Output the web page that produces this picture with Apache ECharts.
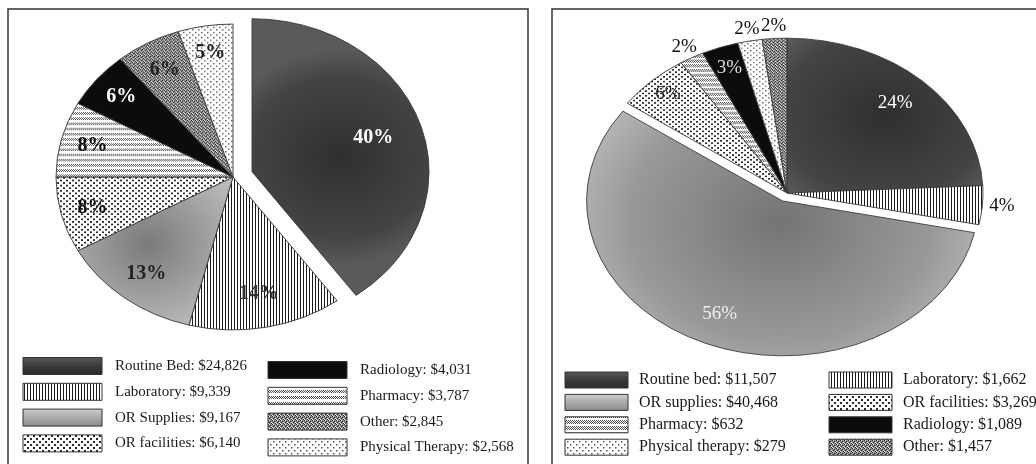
<!DOCTYPE html>
<html>
<head>
<meta charset="utf-8">
<script src="https://cdn.jsdelivr.net/npm/echarts@6/dist/echarts.min.js"></script>
<style>
html, body { margin: 0; padding: 0; background: #fff; }
#main { width: 1036px; height: 464px; }
</style>
</head>
<body>
<div id="main"></div>
<script>
// left pie
var leftNames = ['Routine Bed', 'Laboratory', 'OR Supplies', 'OR facilities', 'Pharmacy', 'Radiology', 'Other', 'Physical Therapy'];
var leftShares = [40, 14, 13, 8, 8, 6, 6, 5];
var leftCosts = [24826, 9339, 9167, 6140, 3787, 4031, 2845, 2568];
// right pie
var rightNames = ['Routine bed', 'Laboratory', 'OR supplies', 'OR facilities', 'Pharmacy', 'Radiology', 'Physical therapy', 'Other'];
var rightShares = [24, 4, 56, 6, 2, 3, 2, 2];
var rightCosts = [11507, 1662, 40468, 3269, 632, 1089, 279, 1457];

// fill kind of each slice
var leftKinds = ['bed', 'lab', 'sup', 'fac', 'pharm', 'rad', 'other', 'pt'];
var rightKinds = ['bed', 'lab', 'sup2', 'fac', 'pharm2', 'rad', 'pt', 'other'];

function makeCanvas(w, h, draw) {
  var c = document.createElement('canvas');
  c.width = w;
  c.height = h;
  draw(c.getContext('2d'));
  return c;
}
function hatch(g, band) {
  g.fillStyle = '#fff';
  g.fillRect(0, 0, 6, 6);
  g.strokeStyle = '#3c3c3c';
  g.lineWidth = 0.9;
  for (var x = -3; x <= 6; x += 2) {
    g.beginPath();
    g.moveTo(x, band);
    g.lineTo(x + band, 0);
    g.stroke();
  }
}
var patterns = {
  lines: makeCanvas(3, 3, function (g) {
    g.fillStyle = '#fff'; g.fillRect(0, 0, 3, 3);
    g.fillStyle = '#1a1a1a'; g.fillRect(0, 0, 1, 3);
  }),
  dots: makeCanvas(6, 6, function (g) {
    g.fillStyle = '#fff'; g.fillRect(0, 0, 6, 6);
    g.fillStyle = '#2a2a2a'; g.fillRect(0, 0, 2, 2); g.fillRect(3, 3, 2, 2);
  }),
  lightdots: makeCanvas(6, 6, function (g) {
    g.fillStyle = '#fff'; g.fillRect(0, 0, 6, 6);
    g.fillStyle = '#555'; g.fillRect(0, 0, 1.5, 1.5); g.fillRect(3, 3, 1.5, 1.5);
  }),
  dense: makeCanvas(4, 4, function (g) {
    g.fillStyle = '#8c8c8c'; g.fillRect(0, 0, 4, 4);
    g.fillStyle = '#262626';
    g.fillRect(0, 0, 1, 1); g.fillRect(2, 1, 1, 1); g.fillRect(1, 2, 1, 1); g.fillRect(3, 3, 1, 1);
    g.fillStyle = '#e6e6e6';
    g.fillRect(1, 0, 1, 1); g.fillRect(3, 2, 1, 1); g.fillRect(0, 3, 1, 1);
  }),
  hatch: makeCanvas(6, 6, function (g) { hatch(g, 3); }),
  hatch2: makeCanvas(6, 6, function (g) { hatch(g, 4); })
};
function pat(c) { return { image: c, repeat: 'repeat' }; }

var fills = {
  bed: new echarts.graphic.RadialGradient(0.5, 0.5, 0.7, [
    { offset: 0, color: '#2f2f2f' }, { offset: 0.75, color: '#444' }, { offset: 1, color: '#5a5a5a' }]),
  sup: new echarts.graphic.RadialGradient(0.45, 0.45, 0.75, [
    { offset: 0, color: '#7a7a7a' }, { offset: 1, color: '#c2c2c2' }]),
  sup2: new echarts.graphic.RadialGradient(0.5, 0.45, 0.7, [
    { offset: 0, color: '#747474' }, { offset: 0.7, color: '#999' }, { offset: 1, color: '#b8b8b8' }]),
  lab: pat(patterns.lines),
  fac: pat(patterns.dots),
  pt: pat(patterns.lightdots),
  other: pat(patterns.dense),
  pharm: pat(patterns.hatch),
  pharm2: pat(patterns.hatch2),
  rad: '#0c0c0c'
};
var swatchFills = {
  bed: new echarts.graphic.LinearGradient(0, 0, 0, 1, [
    { offset: 0, color: '#5a5a5a' }, { offset: 0.5, color: '#3a3a3a' }, { offset: 1, color: '#2a2a2a' }]),
  sup: new echarts.graphic.LinearGradient(0, 0, 0, 1, [
    { offset: 0, color: '#d0d0d0' }, { offset: 0.5, color: '#aaa' }, { offset: 1, color: '#8a8a8a' }])
};
swatchFills.sup2 = swatchFills.sup;

var leftCfg = {
  cx: 233, cy: 177, r: 177, k: 0.864,
  explode: [20, 0, 0, 0, 0, 0, 0, 0],
  labelR: [0.72, 0.78, 0.8, 0.82, 0.82, 0.82, 0.8, 0.82],
  labelColor: ['#fff', '#333', '#222', '#111', '#111', '#fff', '#222', '#222'],
  fontSize: 20, fontWeight: 'bold'
};
var rightCfg = {
  cx: 787, cy: 193, r: 196, k: 0.79,
  explode: [0, 0, 11, 0, 0, 0, 0, 0],
  labelR: [0.8, 1.1, 0.8, 0.88, 1.08, 0.86, 1.08, 1.08],
  labelColor: ['#fff', '#111', '#eee', '#222', '#111', '#ddd', '#111', '#111'],
  fontSize: 19, fontWeight: 'normal'
};

function pieSeries(shares, kinds, cfg) {
  var total = 0, starts = [];
  shares.forEach(function (v) { starts.push(total); total += v; });
  return {
    type: 'custom',
    coordinateSystem: 'none',
    silent: true,
    data: shares,
    renderItem: function (params, api) {
      var i = params.dataIndex;
      var v = api.value(0);
      var a0 = starts[i] / total * Math.PI * 2;
      var a1 = (starts[i] + v) / total * Math.PI * 2;
      var mid = (a0 + a1) / 2;
      var off = cfg.explode[i];
      var cx = cfg.cx + Math.sin(mid) * off;
      var cy = cfg.cy - Math.cos(mid) * off * cfg.k;
      var lr = cfg.r * cfg.labelR[i];
      return {
        type: 'group',
        children: [{
          type: 'sector',
          shape: { cx: cx, cy: cy, r0: 0, r: cfg.r, startAngle: a0 - Math.PI / 2, endAngle: a1 - Math.PI / 2, clockwise: true },
          originX: cx, originY: cy, scaleY: cfg.k,
          style: { fill: fills[kinds[i]], stroke: '#3a3a3a', lineWidth: 1 }
        }, {
          type: 'text',
          x: cx + Math.sin(mid) * lr,
          y: cy - Math.cos(mid) * lr * cfg.k,
          style: {
            text: v + '%', fill: cfg.labelColor[i],
            fontFamily: 'Liberation Serif', fontSize: cfg.fontSize, fontWeight: cfg.fontWeight,
            align: 'center', verticalAlign: 'middle'
          }
        }]
      };
    }
  };
}

function legendItems(names, costs, kinds, cols, lay) {
  var els = [];
  cols.forEach(function (col, c) {
    col.forEach(function (idx, r) {
      var x = lay.x[c], y = lay.y[c] + r * lay.step;
      els.push({
        type: 'rect',
        shape: { x: x, y: y - lay.h / 2, width: lay.w, height: lay.h },
        style: { fill: swatchFills[kinds[idx]] || fills[kinds[idx]], stroke: '#333', lineWidth: 1 }
      });
      els.push({
        type: 'text',
        x: x + lay.gap, y: y,
        style: {
          text: names[idx] + ': $' + costs[idx].toLocaleString('en-US'),
          fill: '#1a1a1a', fontFamily: 'Liberation Serif', fontSize: lay.fontSize,
          verticalAlign: 'middle'
        }
      });
    });
  });
  return els;
}

var graphics = [
  { type: 'rect', shape: { x: 8, y: 9, width: 520, height: 470 }, style: { fill: 'none', stroke: '#333', lineWidth: 1.5 } },
  { type: 'rect', shape: { x: 552, y: 9, width: 500, height: 470 }, style: { fill: 'none', stroke: '#333', lineWidth: 1.5 } }
];
graphics = graphics.concat(
  legendItems(leftNames, leftCosts, leftKinds, [[0, 1, 2, 3], [5, 4, 6, 7]],
    { x: [23, 268], y: [366, 370], step: 25.8, w: 79, h: 17, gap: 92, fontSize: 15 }),
  legendItems(rightNames, rightCosts, rightKinds, [[0, 2, 4, 6], [1, 3, 5, 7]],
    { x: [565, 829], y: [380, 380], step: 22.4, w: 63, h: 16, gap: 74, fontSize: 16 })
);

var myChart = echarts.init(document.getElementById('main'));
var option = {
  animation: false,
  backgroundColor: '#fff',
  graphic: graphics,
  series: [
    pieSeries(leftShares, leftKinds, leftCfg),
    pieSeries(rightShares, rightKinds, rightCfg)
  ]
};
myChart.setOption(option);
window.addEventListener('resize', function () {
  myChart.resize();
});
</script>
</body>
</html>
